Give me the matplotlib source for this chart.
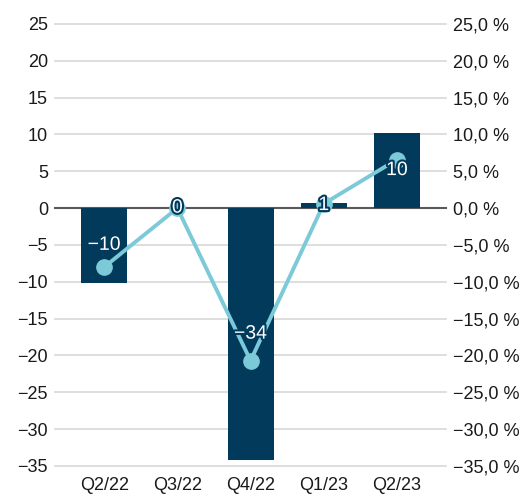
import matplotlib.pyplot as plt
import matplotlib.patheffects as pe
from matplotlib.ticker import FuncFormatter

plt.rcParams['font.family'] = ['Liberation Sans', 'DejaVu Sans']

quarters = ["Q2/22", "Q3/22", "Q4/22", "Q1/23", "Q2/23"]
bar_values = [-10.1, 0.0, -34.2, 0.7, 10.2]
bar_labels = ["\u221210", "0", "\u221234", "1", "10"]
pct_values = [-8.0, 0.0, -20.7, 0.6, 6.6]

left_ticks = list(range(-35, 30, 5))

navy = "#023a5c"
teal = "#7ccad8"
grid = "#d4d4d4"

fig = plt.figure(figsize=(5.32, 4.95), dpi=100)
ax = fig.add_axes([0.127, 0.0586, 0.688, 0.893])
ax2 = ax.twinx()

x = range(len(quarters))

# Gitterlinien etwas über die Achsen hinaus
for t in left_ticks:
    c = "#595959" if t == 0 else grid
    lw = 1.5 if t == 0 else 1.1
    ax.axhline(t, xmin=-0.035, xmax=1.035, color=c, lw=lw, clip_on=False, zorder=1)

ax.bar(x, bar_values, width=0.63, color=navy, zorder=2)
ax2.plot(x, pct_values, color=teal, lw=2.8, marker="o", ms=11, zorder=3)

for i, (v, lab) in enumerate(zip(bar_values, bar_labels)):
    ax2.text(i, v / 2, lab, ha="center", va="center", color="white", fontsize=14,
             zorder=5, path_effects=[pe.withStroke(linewidth=3, foreground=navy)])

ax.set_ylim(-35, 25)
ax2.set_ylim(-35, 25)
ax.set_xlim(-0.5, len(quarters) - 0.5)
ax.set_yticks(left_ticks)
ax2.set_yticks(left_ticks)
ax.yaxis.set_major_formatter(FuncFormatter(lambda v, p: f"{v:.0f}".replace("-", "\u2212")))
ax2.yaxis.set_major_formatter(
    FuncFormatter(lambda v, p: f"{v:.1f} %".replace(".", ",").replace("-", "\u2212")))
ax.set_xticks(list(x))
ax.set_xticklabels(quarters)

ax.tick_params(axis="y", length=0, pad=14, labelsize=13, labelcolor="#1a1a1a")
ax2.tick_params(axis="y", length=0, pad=14, labelsize=13, labelcolor="#1a1a1a")
ax.tick_params(axis="x", length=0, pad=8, labelsize=13, labelcolor="#1a1a1a")

for a in (ax, ax2):
    for s in a.spines.values():
        s.set_visible(False)
ax.set_zorder(ax2.get_zorder() - 1)
ax2.patch.set_visible(False)

fig.savefig("out.png", dpi=100)
